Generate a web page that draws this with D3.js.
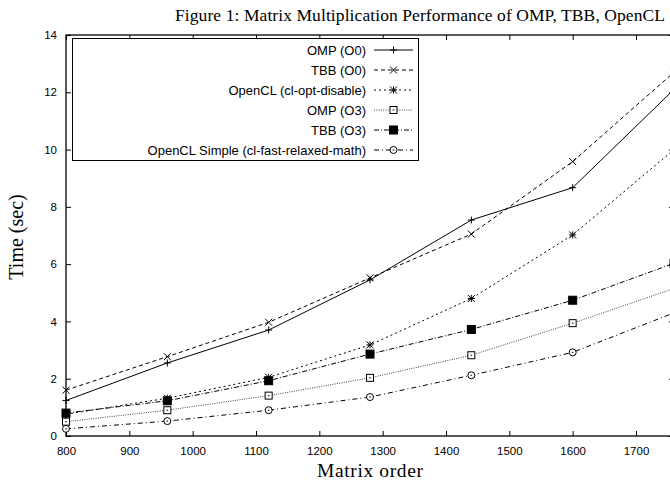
<!DOCTYPE html>
<html>
<head>
<meta charset="utf-8">
<script src="https://cdn.jsdelivr.net/npm/d3@7"></script>
<style>
  body { margin: 0; background: #fff; }
  svg { display: block; }
</style>
</head>
<body>
<script>
// matrix orders on the x axis
const orders = [800, 960, 1120, 1280, 1440, 1600, 1760];

// seconds per run
const ompO0 = [1.24, 2.55, 3.70, 5.45, 7.54, 8.67, 12.1];
const tbbO0 = [1.60, 2.77, 3.97, 5.52, 7.05, 9.58, 12.7];
const oclDisable = [0.76, 1.32, 2.05, 3.18, 4.80, 7.02, 10.0];
const ompO3 = [0.50, 0.90, 1.41, 2.03, 2.82, 3.94, 5.15];
const tbbO3 = [0.80, 1.23, 1.93, 2.86, 3.72, 4.74, 6.03];
const oclSimple = [0.25, 0.52, 0.90, 1.36, 2.12, 2.92, 4.30];

const seriesNames = ["OMP (O0)", "TBB (O0)", "OpenCL (cl-opt-disable)", "OMP (O3)", "TBB (O3)", "OpenCL Simple (cl-fast-relaxed-math)"];
const xTicks = [800, 900, 1000, 1100, 1200, 1300, 1400, 1500, 1600, 1700];
const yTicks = [0, 2, 4, 6, 8, 10, 12, 14];

const series = [
  {name: seriesNames[0], values: ompO0, dash: null, color: "#000", mark: "plus"},
  {name: seriesNames[1], values: tbbO0, dash: "4,3", color: "#000", mark: "cross"},
  {name: seriesNames[2], values: oclDisable, dash: "2,3", color: "#000", mark: "star"},
  {name: seriesNames[3], values: ompO3, dash: "1,1.3", color: "#444", mark: "box"},
  {name: seriesNames[4], values: tbbO3, dash: "5,2,1,2", color: "#000", mark: "fbox"},
  {name: seriesNames[5], values: oclSimple, dash: "5,3,1,3", color: "#000", mark: "circle"}
];

let margin = {top: 35, right: -4, bottom: 44, left: 66},
  W = 670, H = 480,
  width = W - margin.left - margin.right,
  height = H - margin.top - margin.bottom;

let svg = d3.select("body").append("svg")
  .attr("width", W)
  .attr("height", H);

let g = svg.append("g")
  .attr("transform", "translate(" + margin.left + "," + margin.top + ")");

let x = d3.scaleLinear().domain([800, 1760]).range([0, width]);
let y = d3.scaleLinear().domain([0, 14]).range([height, 0]);

const sans = "'Liberation Sans', Arial, sans-serif";
const serif = "'Liberation Serif', 'Times New Roman', serif";

// axes, ticks pointing inward like gnuplot
function styleAxis(sel) {
  sel.select(".domain").remove();
  sel.selectAll("line").attr("stroke", "#000").attr("stroke-width", 1);
  sel.selectAll("text").attr("font-family", sans).attr("font-size", 11.5).attr("fill", "#000");
}

g.append("g")
  .attr("transform", "translate(0," + height + ")")
  .call(d3.axisBottom(x).tickValues(xTicks).tickSize(-5).tickPadding(11).tickFormat(d3.format("d")))
  .call(styleAxis);

g.append("g")
  .call(d3.axisTop(x).tickValues(xTicks).tickSize(-5).tickFormat(""))
  .call(styleAxis);

g.append("g")
  .call(d3.axisLeft(y).tickValues(yTicks).tickSize(-5).tickPadding(9))
  .call(styleAxis);

g.append("g")
  .attr("transform", "translate(" + width + ",0)")
  .call(d3.axisRight(y).tickValues(yTicks).tickSize(-5).tickFormat(""))
  .call(styleAxis);

g.append("rect")
  .attr("width", width).attr("height", height)
  .attr("fill", "none").attr("stroke", "#000").attr("stroke-width", 1.3);

// point markers
function drawMark(sel, kind, cx, cy) {
  let s = 3.5;
  let p = sel.append("g").attr("transform", "translate(" + cx + "," + cy + ")")
    .attr("stroke", "#000").attr("stroke-width", 1).attr("fill", "none");
  if (kind === "plus" || kind === "star") {
    p.append("path").attr("d", "M" + (-s) + ",0H" + s + "M0," + (-s) + "V" + s);
  }
  if (kind === "cross" || kind === "star") {
    p.append("path").attr("d", "M" + (-s) + "," + (-s) + "L" + s + "," + s + "M" + (-s) + "," + s + "L" + s + "," + (-s));
  }
  if (kind === "box") {
    p.append("rect").attr("x", -s).attr("y", -s).attr("width", 2 * s).attr("height", 2 * s).attr("fill", "#fff");
    p.append("path").attr("d", "M-0.8,0H0.8");
  }
  if (kind === "fbox") {
    p.append("rect").attr("x", -s - 0.5).attr("y", -s - 0.5).attr("width", 2 * s + 1).attr("height", 2 * s + 1).attr("fill", "#000");
  }
  if (kind === "circle") {
    p.append("circle").attr("r", s).attr("fill", "#fff");
    p.append("path").attr("d", "M-0.8,0H0.8");
  }
}

let line = d3.line().x((d, i) => x(orders[i])).y(d => y(d));

series.forEach(function(s) {
  g.append("path")
    .datum(s.values)
    .attr("d", line)
    .attr("fill", "none")
    .attr("stroke", s.color)
    .attr("stroke-width", 1)
    .attr("stroke-dasharray", s.dash);
  s.values.forEach(function(v, i) {
    drawMark(g, s.mark, x(orders[i]), y(v));
  });
});

// legend
let legend = svg.append("g");
legend.append("rect")
  .attr("x", 72.5).attr("y", 38.5).attr("width", 346).attr("height", 122)
  .attr("fill", "#fff").attr("stroke", "#000").attr("stroke-width", 1);

series.forEach(function(s, i) {
  let ly = 50 + i * 20;
  legend.append("text")
    .attr("x", 366).attr("y", ly).attr("dy", "0.35em")
    .attr("text-anchor", "end")
    .attr("font-family", sans).attr("font-size", 13)
    .text(s.name);
  legend.append("line")
    .attr("x1", 374).attr("x2", 413).attr("y1", ly).attr("y2", ly)
    .attr("stroke", s.color).attr("stroke-width", 1)
    .attr("stroke-dasharray", s.dash);
  drawMark(legend, s.mark, 393.5, ly);
});

// titles
svg.append("text")
  .attr("x", 175).attr("y", 21)
  .attr("textLength", 490)
  .attr("font-family", serif).attr("font-size", 17.5)
  .text("Figure 1: Matrix Multiplication Performance of OMP, TBB, OpenCL");

svg.append("text")
  .attr("x", 370).attr("y", 477)
  .attr("text-anchor", "middle")
  .attr("textLength", 106)
  .attr("font-family", serif).attr("font-size", 19.5)
  .text("Matrix order");

svg.append("text")
  .attr("transform", "translate(23,237) rotate(-90)")
  .attr("text-anchor", "middle")
  .attr("font-family", serif).attr("font-size", 20)
  .text("Time (sec)");
</script>
</body>
</html>
